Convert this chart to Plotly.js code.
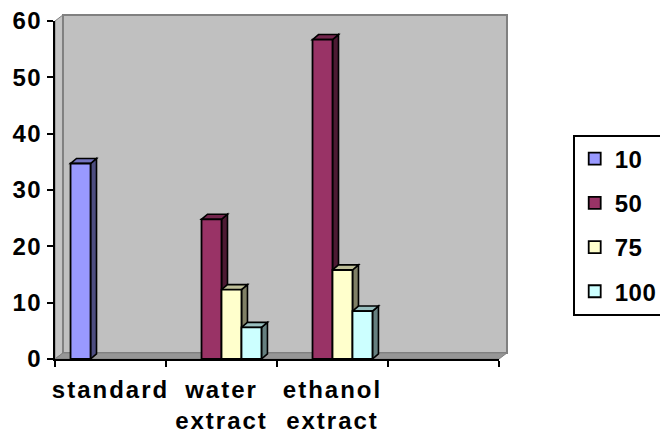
<!DOCTYPE html>
<html>
<head>
<meta charset="utf-8">
<script src="https://cdn.plot.ly/plotly-3.0.1.min.js"></script>
<style>
html,body{margin:0;padding:0;background:#fff;}
#chart{width:660px;height:438px;}
#chart .xtick text{letter-spacing:2px;}
#chart .ytick text{letter-spacing:1.5px;}
#chart .legendtext{letter-spacing:0.5px;}
</style>
</head>
<body>
<div id="chart"></div>
<script>
// ---- data ----
const categories = ['standard', 'water<br>extract', 'ethanol<br>extract', ' '];
const seriesNames = ['10', '50', '75', '100'];
const s10  = [34.7, null, null, null];
const s50  = [null, 24.8, 56.7, null];
const s75  = [null, 12.3, 15.8, null];
const s100 = [null, 5.6, 8.5, null];
const yTicks = [0, 10, 20, 30, 40, 50, 60];

// ---- styles ----
const frontColors = ['#9999FF', '#993366', '#FFFFCC', '#CCFFFF'];
const sideColors  = ['#4D4D80', '#4D1A33', '#808066', '#668080'];
const topColors   = ['#7373BF', '#73264D', '#BFBF99', '#99BFBF'];
const allSeries = [s10, s50, s75, s100];
const bargap = 0.28;
const depthX = 0.054;   // bar depth in category units
const depthY = 0.9;     // bar depth in value units
const wallDx = 0.018, wallDy = 0.018; // wall depth (paper units)

const traces = allSeries.map((vals, k) => ({
  type: 'bar',
  name: seriesNames[k],
  x: categories,
  y: vals,
  legendgroup: 'g' + k,
  marker: {color: frontColors[k], line: {color: '#000', width: 1.8}},
  hoverinfo: 'x+y+name'
}));

const shapes = [];
// walls (paper coordinates, behind everything)
shapes.push({type: 'path', xref: 'paper', yref: 'paper', layer: 'below',
  path: `M0,0 L${wallDx},${wallDy} L${wallDx},${1 + wallDy} L0,1 Z`,
  fillcolor: '#C4C4C4', line: {color: '#808080', width: 1}});
shapes.push({type: 'rect', xref: 'paper', yref: 'paper', layer: 'below',
  x0: wallDx, y0: wallDy, x1: 1 + wallDx, y1: 1 + wallDy,
  fillcolor: '#C0C0C0', line: {color: '#808080', width: 2}});
shapes.push({type: 'path', xref: 'paper', yref: 'paper', layer: 'below',
  path: `M0,0 L1,0 L${1 + wallDx},${wallDy} L${wallDx},${wallDy} Z`,
  fillcolor: '#969696', line: {color: '#808080', width: 1}});

// 3D faces of bars (computed from data)
const nS = allSeries.length;
const w = (1 - bargap) / nS;
for (let i = 0; i < categories.length; i++) {
  for (let k = 0; k < nS; k++) {
    const v = allSeries[k][i];
    if (v === null || v === undefined) continue;
    const x0 = i - (1 - bargap) / 2 + k * w;
    const x1 = x0 + w;
    shapes.push({type: 'path', xref: 'x', yref: 'y', layer: 'below',
      path: `M${x1},0 L${x1 + depthX},${depthY} L${x1 + depthX},${v + depthY} L${x1},${v} Z`,
      fillcolor: sideColors[k], line: {color: '#000', width: 1.6}});
    shapes.push({type: 'path', xref: 'x', yref: 'y', layer: 'below',
      path: `M${x0},${v} L${x1},${v} L${x1 + depthX},${v + depthY} L${x0 + depthX},${v + depthY} Z`,
      fillcolor: topColors[k], line: {color: '#000', width: 1.6}});
  }
}

const font = {family: 'Liberation Sans, Arial, sans-serif', size: 24, color: '#000', weight: 'bold'};

const layout = {
  width: 660, height: 438,
  margin: {l: 55, r: 161, t: 21, b: 79, pad: 0, autoexpand: false},
  paper_bgcolor: '#fff',
  plot_bgcolor: 'rgba(0,0,0,0)',
  barmode: 'group',
  bargap: bargap,
  bargroupgap: 0,
  showlegend: true,
  legend: {
    x: 1.166, xanchor: 'left', y: 0.664, yanchor: 'top',
    font: font, bgcolor: '#fff', bordercolor: '#000', borderwidth: 2,
    tracegroupgap: 10, traceorder: 'grouped'
  },
  xaxis: {
    type: 'category', categoryorder: 'array', categoryarray: categories,
    range: [-0.5, 3.5], tickson: 'boundaries', tickangle: 0,
    ticklabelstandoff: 8,
    showline: true, linecolor: '#000', linewidth: 2,
    ticks: 'outside', ticklen: 6, tickwidth: 2, tickcolor: '#000',
    showgrid: false, zeroline: false,
    tickfont: font,
    fixedrange: true
  },
  yaxis: {
    range: [0, 60], tickvals: yTicks,
    showline: true, linecolor: '#000', linewidth: 2,
    ticks: 'outside', ticklen: 6, tickwidth: 2, tickcolor: '#000',
    showgrid: false, zeroline: false,
    tickfont: font, fixedrange: true
  },
  shapes: shapes
};

Plotly.newPlot('chart', traces, layout, {displayModeBar: false, staticPlot: true});
</script>
</body>
</html>
